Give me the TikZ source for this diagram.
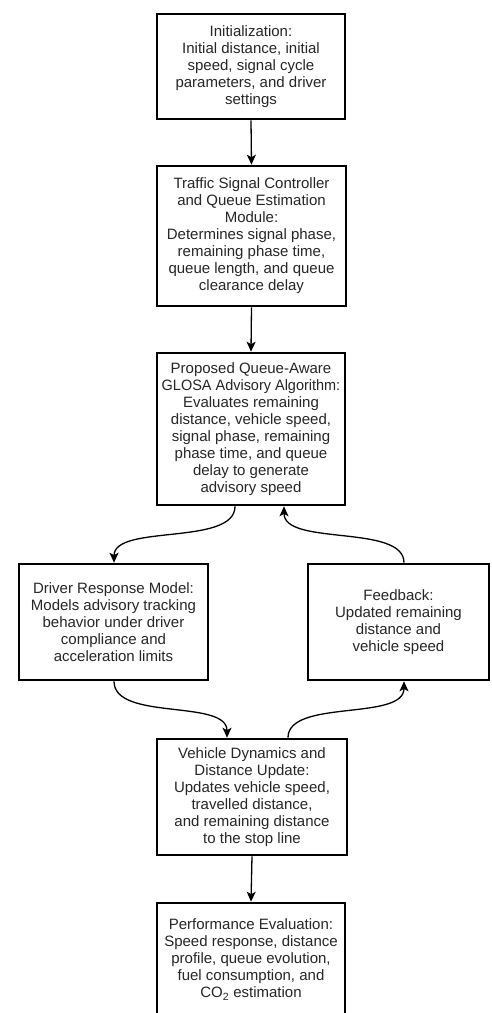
\documentclass[tikz,border=0pt]{standalone}
\usepackage{fontspec}
\usepackage{graphicx}
\setmainfont{Liberation Sans}
\usetikzlibrary{arrows.meta,calc}
\tikzset{
  box/.style={draw=black, line width=2.6pt, fill=white, align=center, inner sep=0pt,
    font=\fontsize{15pt}{17pt}\selectfont, text=black!85},
  conn/.style={line width=1.3pt, -{Stealth[length=10pt,width=9pt,inset=2.5pt]}},
}
\begin{document}
\begin{tikzpicture}[x=1pt,y=-1pt]
\useasboundingbox (0,0) rectangle (491,1013);
\clip (0,0) rectangle (491,1013);
\node[box, minimum width=188, minimum height=105] (n1) at (251,66.5)
  {Initialization:\\Initial distance, initial\\speed, signal cycle\\parameters, and driver\\settings};
\node[box, minimum width=189, minimum height=140] (n2) at (251.5,236)
  {Traffic Signal Controller\\and Queue Estimation\\Module:\\Determines signal phase,\\remaining phase time,\\queue length, and queue\\clearance delay};
\node[box, minimum width=188, minimum height=152] (n3) at (251,429)
  {Proposed Queue-Aware\\\scalebox{0.965}[1]{GLOSA Advisory Algorithm:}\\Evaluates remaining\\distance, vehicle speed,\\signal phase, remaining\\phase time, and queue\\delay to generate\\advisory speed};
\node[box, minimum width=189, minimum height=116] (n4) at (113.5,622)
  {Driver Response Model:\\Models advisory tracking\\behavior under driver\\compliance and\\acceleration limits};
\node[box, minimum width=181, minimum height=116] (n5) at (398.5,622)
  {Feedback:\\Updated remaining\\distance and\\vehicle speed};
\node[box, minimum width=190, minimum height=116] (n6) at (252,797)
  {Vehicle Dynamics and\\Distance Update:\\Updates vehicle speed,\\travelled distance,\\and remaining distance\\to the stop line};
\node[box, minimum width=188, minimum height=113] (n7) at (251,959.5)
  {Performance Evaluation:\\Speed response, distance\\profile, queue evolution,\\fuel consumption, and\\CO\textsubscript{2} estimation};

\draw[conn] (n1.south) -- (n2.north);
\draw[conn] (n2.south) -- (n3.north);
\draw[conn] (n6.south) -- (n7.north);

\coordinate (a1) at ($(n3.south)+(-16,0)$);
\coordinate (a2) at ($(n4.north)+(0.5,0)$);
\draw[conn] (a1) .. controls +(0,40) and +(0,-39) .. (a2);

\coordinate (b1) at ($(n5.north)+(5.5,0)$);
\coordinate (b2) at ($(n3.south)+(33,0)$);
\draw[conn] (b1) .. controls +(0,-39) and +(0,40) .. (b2);

\coordinate (c1) at ($(n4.south)+(0.5,0)$);
\coordinate (c2) at ($(n6.north)+(-25,0)$);
\draw[conn] (c1) .. controls +(0,40) and +(0,-39) .. (c2);

\coordinate (d1) at ($(n6.north)+(36,0)$);
\coordinate (d2) at ($(n5.south)+(5.5,0)$);
\draw[conn] (d1) .. controls +(0,-39) and +(0,40) .. (d2);
\end{tikzpicture}
\end{document}
